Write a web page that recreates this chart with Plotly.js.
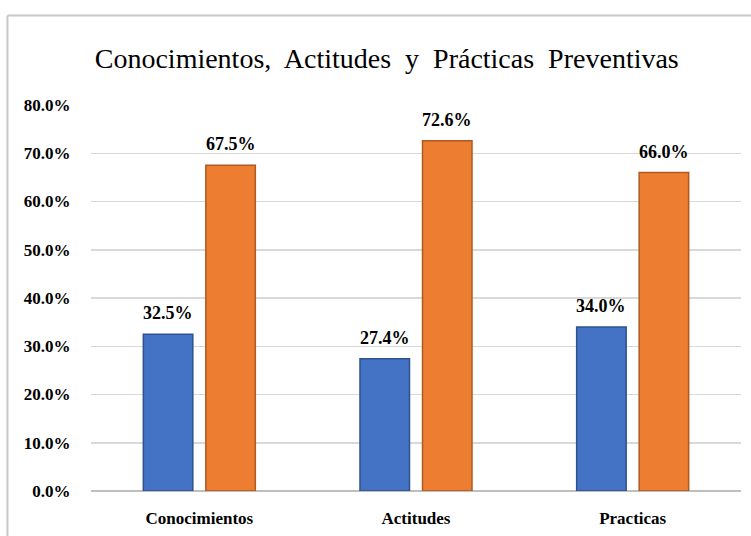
<!DOCTYPE html>
<html>
<head>
<meta charset="utf-8">
<script src="https://cdn.plot.ly/plotly-3.0.1.min.js"></script>
<style>html,body{margin:0;padding:0;background:#fff;}#chart{width:751px;height:536px;}</style>
</head>
<body>
<div id="chart"></div>
<script>
const categories = ["Conocimientos", "Actitudes", "Practicas"];
const seriesA = [32.5, 27.4, 34.0];
const seriesB = [67.5, 72.6, 66.0];
const tickVals = [0, 10, 20, 30, 40, 50, 60, 70, 80];
const tickText = ["0.0%", "10.0%", "20.0%", "30.0%", "40.0%", "50.0%", "60.0%", "70.0%", "80.0%"];

const serif = "Liberation Serif, Times New Roman, serif";
const bargap = 0.423;
const bargroupgap = 0.208;
const slot = (1 - bargap) / 2;

const traces = [
  {type: "bar", x: categories, y: seriesA, name: "A",
   marker: {color: "#4472C4", line: {color: "#2F528F", width: 1.5}}, hoverinfo: "none"},
  {type: "bar", x: categories, y: seriesB, name: "B",
   marker: {color: "#ED7D31", line: {color: "#AE5A21", width: 1.5}}, hoverinfo: "none"}
];

const annotations = [];
[seriesA, seriesB].forEach((s, si) => {
  s.forEach((v, i) => {
    annotations.push({
      x: i + (si === 0 ? -slot / 2 : slot / 2), y: v, xref: "x", yref: "y",
      text: v.toFixed(1) + "%", showarrow: false, yanchor: "bottom", yshift: 9,
      font: {family: serif, size: 18, color: "#000", weight: "bold"}
    });
  });
});

const layout = {
  width: 751, height: 536,
  margin: {l: 91, r: 10, t: 105, b: 45},
  paper_bgcolor: "#fff", plot_bgcolor: "#fff",
  showlegend: false,
  barmode: "group", bargap: bargap, bargroupgap: bargroupgap,
  title: {text: "Conocimientos,  Actitudes  y  Prácticas  Preventivas",
          font: {family: serif, size: 28, color: "#000"},
          x: 0.515, xanchor: "center", y: 0.892, yanchor: "middle"},
  xaxis: {type: "category", showgrid: false, showline: false, zeroline: false,
          ticks: "outside", ticklen: 12, tickcolor: "rgba(0,0,0,0)",
          tickfont: {family: serif, size: 17, color: "#000", weight: "bold"}},
  yaxis: {range: [0, 80], tickvals: tickVals, ticktext: tickText,
          showgrid: true, gridcolor: "#d9d9d9", gridwidth: 1.5,
          zeroline: true, zerolinecolor: "#bfbfbf", zerolinewidth: 2,
          showline: false, ticks: "outside", ticklen: 16, tickcolor: "rgba(0,0,0,0)",
          tickfont: {family: serif, size: 17, color: "#000", weight: "bold"}},
  annotations: annotations,
  shapes: [
    {type: "line", xref: "paper", yref: "paper", x0: -0.1285, x1: -0.1285, y0: -0.2, y1: 1.232,
     line: {color: "#c8c8c8", width: 2}},
    {type: "line", xref: "paper", yref: "paper", x0: -0.1285, x1: 1.1, y0: 1.232, y1: 1.232,
     line: {color: "#c8c8c8", width: 2}}
  ]
};

Plotly.newPlot("chart", traces, layout, {displayModeBar: false, staticPlot: true});
</script>
</body>
</html>
